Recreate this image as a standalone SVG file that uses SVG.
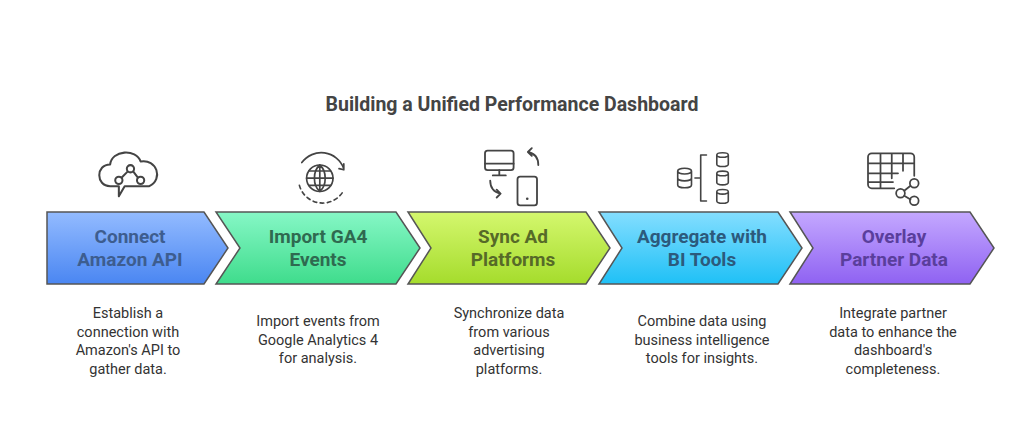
<svg xmlns="http://www.w3.org/2000/svg" width="1024" height="425" viewBox="0 0 1024 425">
<style>
.t{font-family:"Roboto","Liberation Sans",sans-serif;font-weight:700;font-size:19px;text-anchor:middle}
.d{font-family:"Roboto","Liberation Sans",sans-serif;font-size:14.5px;fill:#333;text-anchor:middle}
.s{stroke:#555;stroke-width:1.5}
.i{fill:none;stroke:#444;stroke-width:1.4;stroke-linecap:round;stroke-linejoin:round}
</style>
<defs>
<linearGradient id="g1" x1="0" y1="0" x2="0" y2="1"><stop offset="0" stop-color="#93bbff"/><stop offset="1" stop-color="#4a86f2"/></linearGradient>
<linearGradient id="g2" x1="0" y1="0" x2="0" y2="1"><stop offset="0" stop-color="#86f7c6"/><stop offset="1" stop-color="#3fdc8c"/></linearGradient>
<linearGradient id="g3" x1="0" y1="0" x2="0" y2="1"><stop offset="0" stop-color="#d4f76e"/><stop offset="1" stop-color="#a5dc2c"/></linearGradient>
<linearGradient id="g4" x1="0" y1="0" x2="0" y2="1"><stop offset="0" stop-color="#84deff"/><stop offset="1" stop-color="#1fc0f6"/></linearGradient>
<linearGradient id="g5" x1="0" y1="0" x2="0" y2="1"><stop offset="0" stop-color="#c4a8ff"/><stop offset="1" stop-color="#8f62f2"/></linearGradient>
</defs>
<rect width="1024" height="425" fill="#fff"/>
<text x="512" y="111" style="font-family:Roboto,'Liberation Sans',sans-serif;font-weight:700;font-size:19.5px;fill:#444;text-anchor:middle">Building a Unified Performance Dashboard</text>
<g id="connectors"></g>
<g id="n1">
<path class="s" fill="url(#g1)" d="M47 212H204L228 248L204 284H47Z"/>
<text class="t" fill="#3d5d8f" x="130" y="243">Connect</text><text class="t" fill="#3d5d8f" x="130" y="266">Amazon API</text>
<g transform="translate(129 176) scale(1.45) translate(-129 -176)">
<path class="i" d="M116 183C106 183 106 168 116 168C117 158 134 157 137 166C148 164 153 178 143 183H126L122 190V183Z"/>
<circle class="i" cx="122" cy="179" r="2.5"/><circle class="i" cx="130" cy="171" r="2.5"/><circle class="i" cx="137" cy="179" r="2.5"/><path class="i" d="M124 177L128 173M132 173L135 177"/>
</g>
<text class="d" x="128" y="318">Establish a</text><text class="d" x="128" y="336.5">connection with</text><text class="d" x="128" y="355">Amazon's API to</text><text class="d" x="128" y="373.5">gather data.</text>
</g>
<g id="n2">
<path class="s" fill="url(#g2)" d="M216 212H396L420 248L396 284H216L240 248Z"/>
<text class="t" fill="#2f6a50" x="318" y="243">Import GA4</text><text class="t" fill="#2f6a50" x="318" y="266">Events</text>
<g transform="translate(321 177) scale(1.2) translate(-321 -177)">
<circle class="i" cx="320" cy="178" r="11"/><path class="i" d="M309 178H331M320 167V189M311 172H329M311 184H329M320 167C314 172 314 184 320 189M320 167C326 172 326 184 320 189"/>
<path class="i" d="M340 170A20 20 0 0 0 305 165M340 166L340 171L336 170"/>
<path class="i" stroke-dasharray="3 3" d="M303 184A20 20 0 0 0 340 188"/>
</g>
<text class="d" x="318" y="326">Import events from</text><text class="d" x="318" y="344.5">Google Analytics 4</text><text class="d" x="318" y="363">for analysis.</text>
</g>
<g id="n3">
<path class="s" fill="url(#g3)" d="M408 212H586L610 248L586 284H408L431 248Z"/>
<text class="t" fill="#566a28" x="513" y="243">Sync Ad</text><text class="t" fill="#566a28" x="513" y="266">Platforms</text>
<g transform="translate(511 178) scale(1.3) translate(-511 -178)">
<rect class="i" x="491" y="157" width="22" height="15" rx="2"/><path class="i" d="M491 167H513M502 172V176M497 176H507"/>
<rect class="i" x="516" y="177" width="15" height="22" rx="2"/><circle cx="523.5" cy="194" r="1" fill="#444"/>
<path class="i" d="M532 168C532 162 529 159 524 158M524 158L527 155M524 158L527 161M495 180C495 186 498 189 503 190M503 190L500 187M503 190L500 193"/>
</g>
<text class="d" x="509" y="318">Synchronize data</text><text class="d" x="509" y="336.5">from various</text><text class="d" x="509" y="355">advertising</text><text class="d" x="509" y="373.5">platforms.</text>
</g>
<g id="n4">
<path class="s" fill="url(#g4)" d="M599 212H778L802 248L778 284H599L622 248Z"/>
<text class="t" fill="#2c5a7c" x="702" y="243">Aggregate with</text><text class="t" fill="#2c5a7c" x="702" y="266">BI Tools</text>
<g transform="translate(703 178) scale(1.15) translate(-703 -178)">
<path class="i" d="M681 172V184A6 2.5 0 0 0 693 184V172M681 172A6 2.5 0 0 0 693 172A6 2.5 0 0 0 681 172M681 178A6 2.5 0 0 0 693 178"/>
<path class="i" d="M696 178H701M706 158H701V198H706"/>
<path class="i" d="M715 158V166A5 2 0 0 0 725 166V158A5 2 0 0 0 715 158A5 2 0 0 0 725 158M715 174V182A5 2 0 0 0 725 182V174A5 2 0 0 0 715 174A5 2 0 0 0 725 174M715 190V198A5 2 0 0 0 725 198V190A5 2 0 0 0 715 190A5 2 0 0 0 725 190"/>
</g>
<text class="d" x="702" y="326">Combine data using</text><text class="d" x="702" y="344.5">business intelligence</text><text class="d" x="702" y="363">tools for insights.</text>
</g>
<g id="n5">
<path class="s" fill="url(#g5)" d="M790 212H970L994 248L970 284H790L813 248Z"/>
<text class="t" fill="#5a3e9c" x="894" y="243">Overlay</text><text class="t" fill="#5a3e9c" x="894" y="266">Partner Data</text>
<g transform="translate(893 177) scale(1.25) translate(-893 -177)">
<path class="i" d="M894 186H876A3 3 0 0 1 873 183V161A3 3 0 0 1 876 158H907A3 3 0 0 1 910 161V176M873 166H910M873 174H897M873 181H893M883 158V186M892 158V178M901 158V172"/>
<circle class="i" cx="899" cy="190" r="3.5"/><circle class="i" cx="910" cy="182" r="3.5"/><circle class="i" cx="910" cy="196" r="3.5"/><path class="i" d="M902 188L907 184M902 192L907 195"/>
</g>
<text class="d" x="893" y="318">Integrate partner</text><text class="d" x="893" y="336.5">data to enhance the</text><text class="d" x="893" y="355">dashboard's</text><text class="d" x="893" y="373.5">completeness.</text>
</g>
</svg>
